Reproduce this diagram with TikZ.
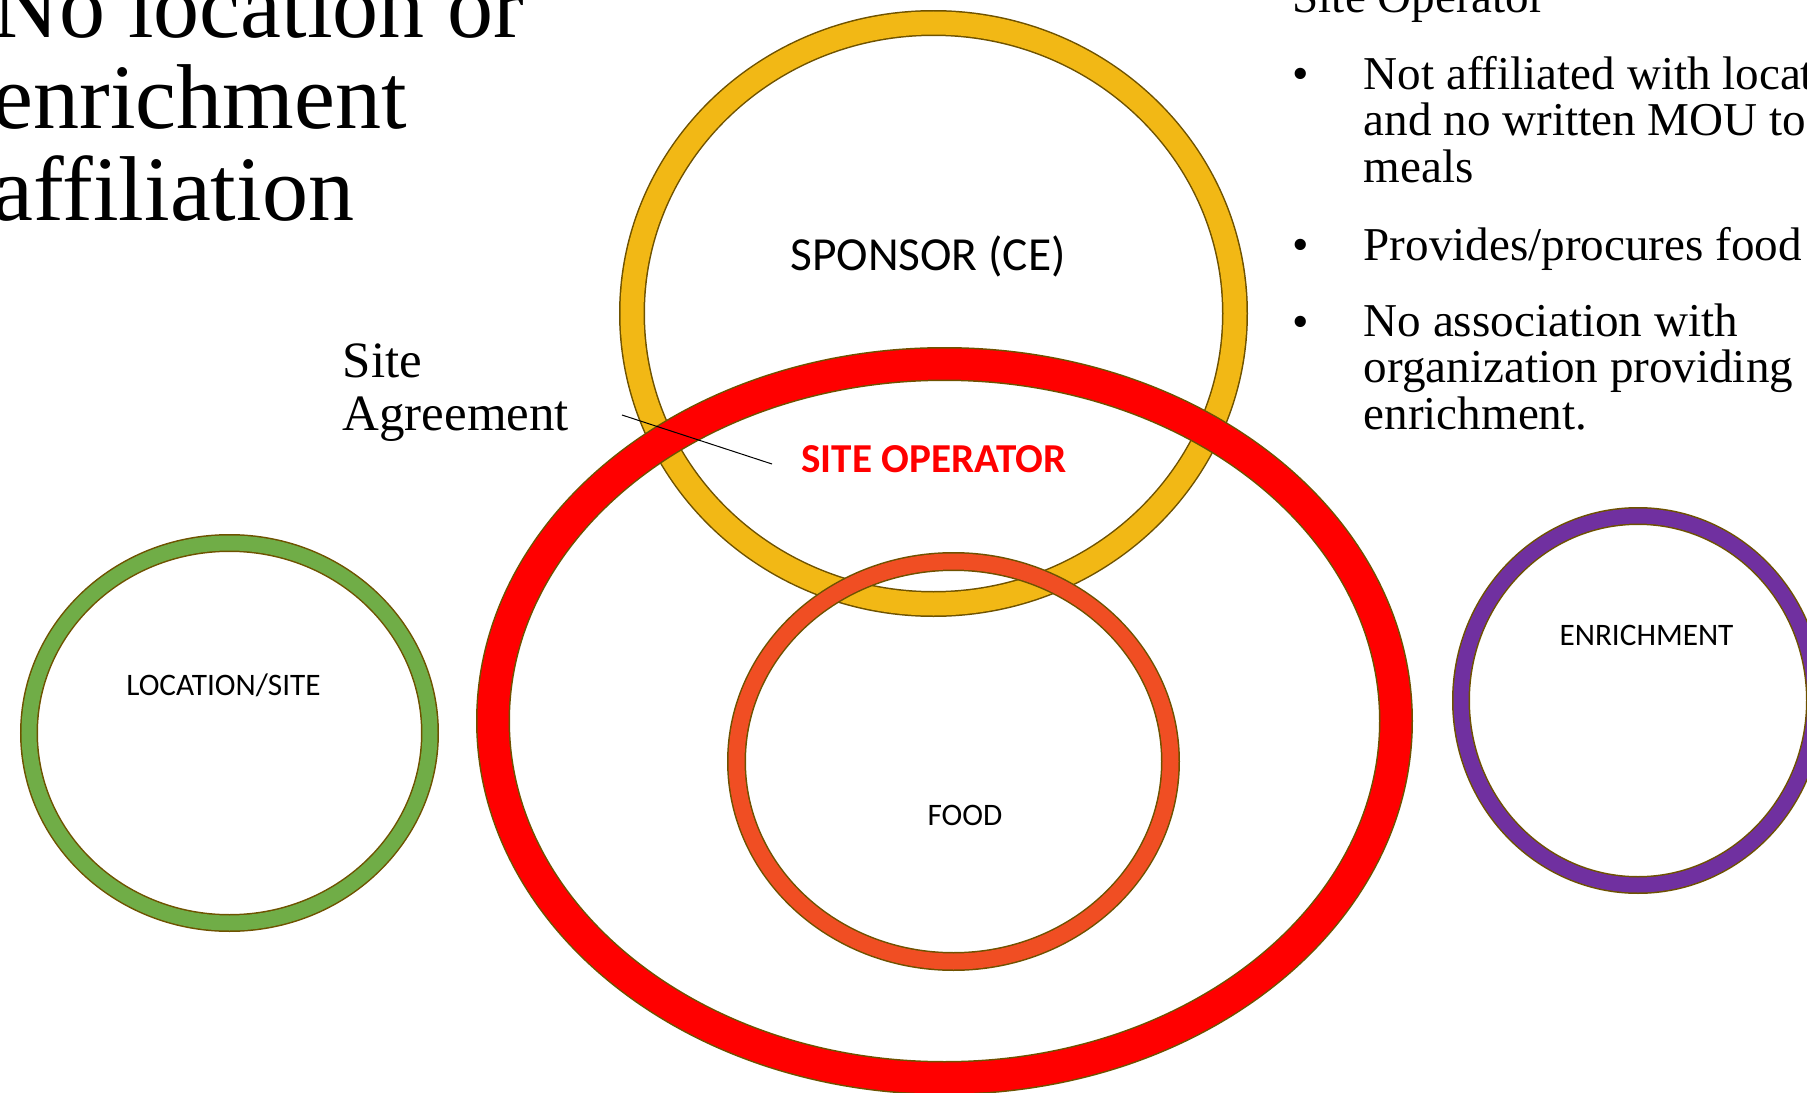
\documentclass[tikz,border=0pt]{standalone}
\usepackage{fontspec}
\setmainfont{Liberation Serif}
\newfontfamily\labelfont{Carlito}

\definecolor{SponsorGold}{RGB}{242,184,21}
\definecolor{OperatorRed}{RGB}{255,0,0}
\definecolor{FoodOrange}{RGB}{240,78,35}
\definecolor{SiteGreen}{RGB}{112,173,71}
\definecolor{EnrichPurple}{RGB}{112,48,160}
\definecolor{RimOlive}{RGB}{110,82,0}
\colorlet{ColourRim}{RimOlive}
\colorlet{ColourText}{black}

\tikzset{
  ring/.style={draw=ColourRim, line width=0.15mm, double=#1},
  heading/.style={align=left, inner sep=0pt, font=\fontsize{26.2pt}{26pt}\selectfont},
  bullettext/.style={align=left, inner sep=0pt, font=\fontsize{13.4pt}{13.1pt}\selectfont},
  agreetext/.style={align=left, inner sep=0pt, font=\fontsize{14.5pt}{14.8pt}\selectfont},
  ringlabel/.style={inner sep=0pt, anchor=base, font=\labelfont\fontsize{8.9pt}{10pt}\selectfont},
}

\begin{document}
\begin{tikzpicture}[x=0.1mm, y=-0.1mm]

  \useasboundingbox (0,0) rectangle (1807,1093);

  \coordinate (sponsorC) at (933.5,313.5);
  \coordinate (operatorC) at (944.5,721);
  \coordinate (foodC) at (953.5,761.5);
  \coordinate (siteC) at (229.5,733);
  \coordinate (enrichC) at (1638,700.5);

  \draw[ring=SponsorGold, double distance=2.3mm]
    (sponsorC) ellipse [x radius=301.5, y radius=290.5];

  \draw[ring=OperatorRed, double distance=3.1mm]
    (operatorC) ellipse [x radius=451.5, y radius=357];

  \draw[ring=FoodOrange, double distance=1.6mm]
    (foodC) ellipse [x radius=217, y radius=200];

  \draw[ring=SiteGreen, double distance=1.5mm]
    (siteC) ellipse [x radius=200.5, y radius=190];

  \draw[ring=EnrichPurple, double distance=1.5mm]
    (enrichC) ellipse [x radius=177, y radius=184.5];

  \node[ringlabel, font=\labelfont\fontsize{13.5pt}{15pt}\selectfont] (sponsor) at (928,270) {SPONSOR (CE)};
  \node[ringlabel, OperatorRed, font=\labelfont\bfseries\fontsize{11.7pt}{13pt}\selectfont] (operator) at (934,472) {SITE OPERATOR};
  \node[ringlabel] (food) at (965,825) {FOOD};
  \node[ringlabel] (site) at (223.5,695) {LOCATION/SITE};
  \node[ringlabel] (enrich) at (1646.5,645) {ENRICHMENT};

  % multi-line nodes sit on the baseline of their last line
  \node[heading, anchor=base west] (title) at (-8,220) {No location or\\enrichment\\affiliation};

  \node[agreetext, anchor=base west] (agreement) at (342,430) {Site\\Agreement};
  \coordinate (agreeStart) at (622,415);
  \coordinate (agreeEnd) at (772,464);
  \draw[ColourText, line width=0.1mm] (agreeStart) -- (agreeEnd);

  \node[bullettext, anchor=base west] (opHead) at (1292,12) {Site Operator};

  \foreach \yy/\nm in {90/one,260/two,337/three}
    \node[bullettext, anchor=base west] (bullet\nm) at (1292,\yy) {\textbullet};

  \node[bullettext, anchor=base west] (itemone) at (1363,182) {Not affiliated with locat\\and no written MOU to\\meals};
  \node[bullettext, anchor=base west] (itemtwo) at (1363,260) {Provides/procures food};
  \node[bullettext, anchor=base west] (itemthree) at (1363,429) {No association with\\organization providing\\enrichment.};

\end{tikzpicture}
\end{document}
